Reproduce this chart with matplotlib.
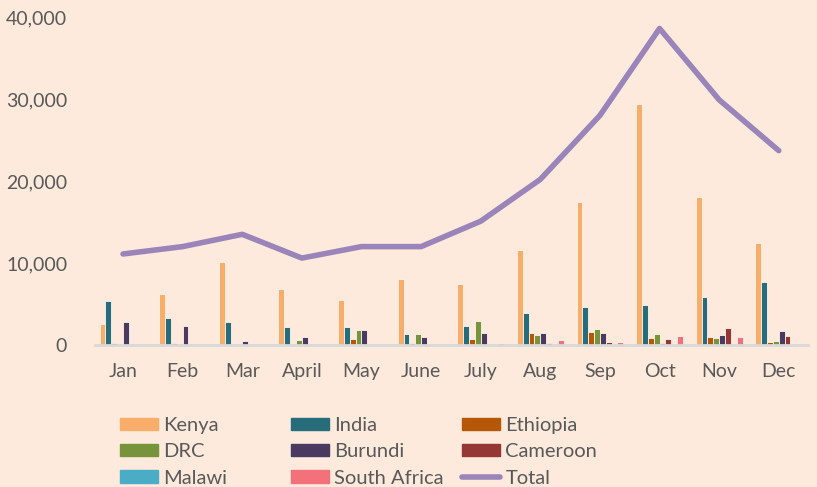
import matplotlib
matplotlib.use("Agg")
import matplotlib.pyplot as plt
import numpy as np
from matplotlib.patches import Patch
from matplotlib.lines import Line2D
from matplotlib.ticker import FuncFormatter

months = ["Jan", "Feb", "Mar", "April", "May", "June", "July", "Aug", "Sep", "Oct", "Nov", "Dec"]
kenya    = [2600, 6200, 10100, 6800, 5500, 8000, 7500, 11600, 17500, 29400, 18100, 12500]
india    = [5400, 3300, 2800, 2200, 2200, 1350, 2300, 3900, 4650, 4870, 5850, 7700]
ethiopia = [250, 200, 150, 150, 750, 250, 700, 1450, 1600, 850, 950, 350]
drc      = [0, 0, 0, 600, 1800, 1350, 2900, 1200, 1950, 1300, 850, 500]
burundi  = [2800, 2300, 500, 950, 1800, 1000, 1450, 1450, 1450, 200, 1200, 1700]
cameroon = [0, 0, 0, 0, 0, 0, 0, 200, 350, 700, 2050, 1100]
malawi   = [0, 0, 0, 0, 0, 0, 0, 0, 50, 100, 0, 0]
s_africa = [0, 0, 0, 0, 0, 0, 200, 600, 350, 1100, 950, 0]
total    = [11100, 12000, 13500, 10600, 12000, 12000, 15100, 20200, 28000, 38600, 29900, 23700]

series = [
    ("Kenya", kenya, "#F9AD6A"),
    ("India", india, "#266C7B"),
    ("Ethiopia", ethiopia, "#B55709"),
    ("DRC", drc, "#77933C"),
    ("Burundi", burundi, "#4A3A60"),
    ("Cameroon", cameroon, "#953735"),
    ("Malawi", malawi, "#4BACC6"),
    ("South Africa", s_africa, "#F2717B"),
]
total_color = "#9A84B9"
bg = "#FDEADC"
txt = "#595959"

plt.rcParams['font.family'] = ['Lato', 'DejaVu Sans']

fig = plt.figure(figsize=(8.17, 4.87), dpi=100, facecolor=bg)
ax = fig.add_axes([95/817, 1-345/487, (808-95)/817, (345-17)/487])
ax.set_facecolor(bg)

x = np.arange(len(months))
w = 0.098
for i, (name, vals, col) in enumerate(series):
    ax.bar(x + (i - 3.5) * w, vals, width=w, color=col, edgecolor="#FFF5EC",
           linewidth=0.6, zorder=2)

ax.plot(x, total, color=total_color, lw=4, solid_capstyle="round",
        solid_joinstyle="round", zorder=3)

ax.set_xlim(-0.47, 11.49)
ax.set_ylim(0, 40000)
ax.set_yticks([0, 10000, 20000, 30000, 40000])
ax.yaxis.set_major_formatter(FuncFormatter(lambda v, p: f"{int(v):,}"))
ax.set_xticks(x)
ax.set_xticklabels(months)
for s in ["top", "right", "left"]:
    ax.spines[s].set_visible(False)
ax.spines["bottom"].set_color("#D9D9D9")
ax.spines["bottom"].set_linewidth(2)
ax.tick_params(axis="both", length=0, labelsize=14, labelcolor=txt)
ax.tick_params(axis="y", pad=20)
ax.tick_params(axis="x", pad=13)

handles = {name: Patch(facecolor=col, edgecolor=col) for name, _, col in series}
handles["Total"] = Line2D([0], [0], color=total_color, lw=4, solid_capstyle="round")
cols = [["Kenya", "DRC", "Malawi"], ["India", "Burundi", "South Africa"],
        ["Ethiopia", "Cameroon", "Total"]]
xs = [116, 287, 458]
for cx, names in zip(xs, cols):
    leg = fig.legend([handles[n] for n in names], names, loc="upper left",
                     bbox_to_anchor=(cx/817, 1-413/487), frameon=False,
                     prop={"family": ["Lato", "DejaVu Sans"], "size": 14.5},
                     handlelength=1.9, handleheight=0.58,
                     handletextpad=0.25, labelspacing=0.46, borderaxespad=0,
                     borderpad=0.2)
    for t in leg.get_texts():
        t.set_color(txt)

fig.savefig("out.png", dpi=100, facecolor=bg)
